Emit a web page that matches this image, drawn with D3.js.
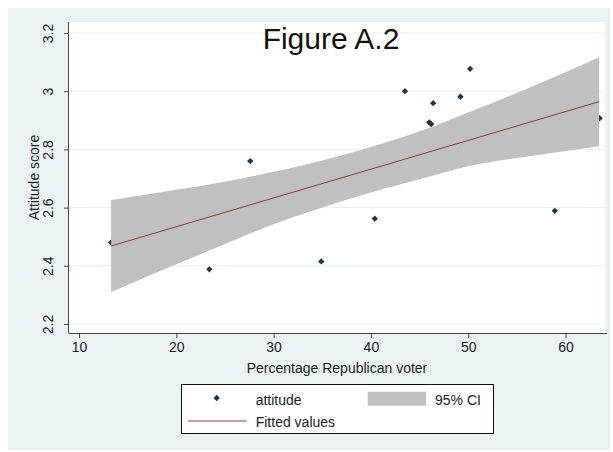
<!DOCTYPE html>
<html>
<head>
<meta charset="utf-8">
<script src="https://cdn.jsdelivr.net/npm/d3@7"></script>
<style>
  body { margin: 0; background: #fff; }
  svg { display: block; font-family: "Liberation Sans", Arial, sans-serif; }
</style>
</head>
<body>
<svg id="chart" width="613" height="452"></svg>
<script>
// scatter points: percentage republican voter vs attitude score
const pctRepublican = [13.3, 23.4, 27.6, 34.9, 40.4, 43.5, 46.4, 46.0, 46.2, 49.2, 50.2, 58.9, 63.5];
const attitude = [2.48, 2.388, 2.76, 2.415, 2.562, 3.0, 2.959, 2.893, 2.887, 2.981, 3.077, 2.589, 2.907];

// fitted line and 95% CI
const fitX = [13.3, 63.45];
const fitY = [2.468, 2.964];
const ciX = [13.3, 20, 25, 30, 35, 40, 45, 50, 57, 63.45];
const ciUpper = [2.626, 2.661, 2.689, 2.723, 2.762, 2.808, 2.862, 2.927, 3.022, 3.117];
const ciLower = [2.310, 2.405, 2.475, 2.543, 2.600, 2.652, 2.697, 2.742, 2.780, 2.811];

const xTicks = [10, 20, 30, 40, 50, 60];
const yTicks = [2.2, 2.4, 2.6, 2.8, 3, 3.2];

const svg = d3.select("#chart");
const plot = { left: 69, right: 605, top: 22, bottom: 333 };

const x = d3.scaleLinear().domain([10, 60]).range([79, 565.5]);
const y = d3.scaleLinear().domain([2.2, 3.2]).range([324, 33]);

// outer background and plot region
svg.append("rect")
  .attr("x", 8).attr("y", 8).attr("width", 602).attr("height", 442)
  .attr("fill", "#eaf2f3");
svg.append("rect")
  .attr("x", plot.left).attr("y", plot.top)
  .attr("width", plot.right - plot.left).attr("height", plot.bottom - plot.top)
  .attr("fill", "#fff");

// grid
svg.append("g")
  .selectAll("line")
  .data(yTicks)
  .join("line")
  .attr("x1", plot.left).attr("x2", plot.right)
  .attr("y1", (d) => y(d)).attr("y2", (d) => y(d))
  .attr("stroke", "#e6eef0").attr("stroke-width", 1);

// points (drawn under the band, as in the original)
const pts = pctRepublican.map((v, i) => ({ x: v, y: attitude[i] }));
const diamond = d3.symbol(d3.symbolSquare, 20);
svg.append("g")
  .selectAll("path")
  .data(pts)
  .join("path")
  .attr("d", diamond)
  .attr("transform", (d) => `translate(${x(d.x)},${y(d.y)}) rotate(45)`)
  .attr("fill", "#1d3550");

// CI band
const ci = ciX.map((v, i) => ({ x: v, lo: ciLower[i], hi: ciUpper[i] }));
svg.append("path")
  .datum(ci)
  .attr("d", d3.area()
    .x((d) => x(d.x))
    .y0((d) => y(d.lo))
    .y1((d) => y(d.hi))
    .curve(d3.curveMonotoneX))
  .attr("fill", "#c0c0c0");

// fitted line
const fit = fitX.map((v, i) => ({ x: v, y: fitY[i] }));
svg.append("path")
  .datum(fit)
  .attr("d", d3.line().x((d) => x(d.x)).y((d) => y(d.y)))
  .attr("fill", "none")
  .attr("stroke", "#8e3a45")
  .attr("stroke-width", 1);

// axes
const xAxis = svg.append("g")
  .attr("transform", `translate(0,${plot.bottom})`)
  .call(d3.axisBottom(x).tickValues(xTicks).tickSize(5).tickPadding(4).tickSizeOuter(0));
xAxis.select(".domain").attr("d", `M${plot.left},0.5H${plot.right + 2}`);
xAxis.selectAll("text").attr("font-size", 14).attr("fill", "#222").attr("font-family", null);

const yAxis = svg.append("g")
  .attr("transform", `translate(${plot.left},0)`)
  .call(d3.axisLeft(y).tickValues(yTicks).tickSize(5).tickSizeOuter(0)
    .tickFormat((d) => d3.format("~g")(d)));
yAxis.select(".domain").attr("d", `M-0.5,${plot.top}V${plot.bottom}`);
yAxis.selectAll("text")
  .attr("font-size", 14).attr("fill", "#222").attr("font-family", null)
  .attr("text-anchor", "middle")
  .attr("x", null).attr("dy", null)
  .attr("transform", "translate(-16,0) rotate(-90)");
svg.selectAll(".domain, .tick line").attr("stroke", "#444");

// axis titles
svg.append("text")
  .attr("x", 337).attr("y", 372.5)
  .attr("text-anchor", "middle").attr("font-size", 14).attr("fill", "#222")
  .text("Percentage Republican voter");
svg.append("text")
  .attr("transform", "translate(39,177.5) rotate(-90)")
  .attr("text-anchor", "middle").attr("font-size", 14).attr("fill", "#222")
  .text("Attitude score");

// title
svg.append("text")
  .attr("x", 331).attr("y", 49)
  .attr("text-anchor", "middle").attr("font-size", 30).attr("fill", "#111")
  .text("Figure A.2");

// legend
const lg = svg.append("g");
lg.append("rect")
  .attr("x", 181.5).attr("y", 384.5).attr("width", 312).attr("height", 49)
  .attr("fill", "#fff").attr("stroke", "#111");
lg.append("path")
  .attr("d", diamond)
  .attr("transform", "translate(216.7,398) rotate(45)")
  .attr("fill", "#1d3550");
lg.append("text").attr("x", 255.7).attr("y", 405)
  .attr("font-size", 14).attr("fill", "#222").text("attitude");
lg.append("rect")
  .attr("x", 367.7).attr("y", 391.7).attr("width", 58.3).attr("height", 14)
  .attr("fill", "#c0c0c0");
lg.append("text").attr("x", 435).attr("y", 405)
  .attr("font-size", 14).attr("fill", "#222").text("95% CI");
lg.append("line")
  .attr("x1", 188).attr("x2", 246.7).attr("y1", 421).attr("y2", 421)
  .attr("stroke", "#8e3a45");
lg.append("text").attr("x", 255.7).attr("y", 426.7)
  .attr("font-size", 14).attr("fill", "#222").text("Fitted values");
</script>
</body>
</html>
